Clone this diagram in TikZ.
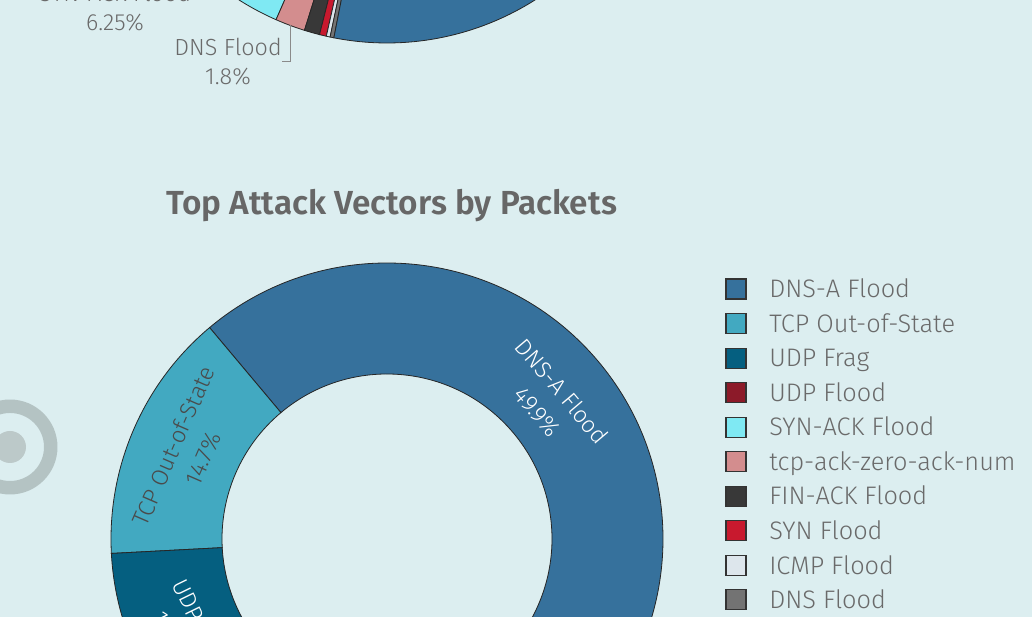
\documentclass[tikz,border=0pt]{standalone}
\usepackage{fontspec}
\setmainfont{Fira Sans}[UprightFont={* Light}, BoldFont={* SemiBold}]
\usetikzlibrary{calc}
\definecolor{bg}{HTML}{DCEEF0}
\definecolor{txtgray}{HTML}{6A6A6A}
\definecolor{titlegray}{HTML}{676767}
\definecolor{darklabel}{HTML}{4A4A4A}
\definecolor{ringgray}{HTML}{B4C3C3}
\definecolor{dotgray}{HTML}{BCC9C9}
\definecolor{leadergray}{HTML}{8A8A8A}
\definecolor{cDNSA}{HTML}{36719C}
\definecolor{cTCP}{HTML}{42A9C1}
\definecolor{cUDPFrag}{HTML}{055F80}
\definecolor{cUDPFlood}{HTML}{8C1A29}
\definecolor{cSYNACK}{HTML}{7FE9F3}
\definecolor{cTCPACK}{HTML}{D38D8E}
\definecolor{cFINACK}{HTML}{383838}
\definecolor{cSYN}{HTML}{C8192E}
\definecolor{cICMP}{HTML}{DDE6EC}
\definecolor{cDNS}{HTML}{737373}
\tikzset{
  slice/.style={draw=black!85, line width=0.6pt},
  legbox/.style={draw=black!80, line width=0.8pt, minimum width=15pt, minimum height=15pt, inner sep=0pt},
  legtext/.style={anchor=base west, inner sep=0pt, text=txtgray, font=\fontsize{19}{23}\selectfont},
  slicelabel/.style={align=center, inner sep=0pt, font=\fontsize{17.5}{24}\selectfont},
  annot/.style={align=center, inner sep=0pt, text=txtgray, font=\fontsize{17.5}{21.75}\selectfont},
  titletext/.style={inner sep=0pt, text=titlegray, font=\fontsize{25}{29}\selectfont\bfseries}
}
\newcommand\annsec[4]{%
  \filldraw[slice, fill=#4] ($(#1)+(#2:276)$) arc[start angle=#2, end angle=#3, radius=276]
    -- ($(#1)+(#3:165)$) arc[start angle=#3, end angle=#2, radius=165] -- cycle;}
\begin{document}
\begin{tikzpicture}[x=0.75pt,y=0.75pt]
\useasboundingbox (0,0) rectangle (1032,617);
\clip (0,0) rectangle (1032,617);
\fill[bg] (0,0) rectangle (1032,617);
% decorative ring at left edge
\draw[ringgray, line width=10.1pt] (10,170) circle[radius=40.75];
\fill[dotgray] (10,170) circle[radius=16];
% ---------- upper donut (bottom part) ----------
\coordinate (U) at (387,850);
\annsec{U}{-160}{-113.7}{cSYNACK}
\annsec{U}{-113.7}{-107.4}{cTCPACK}
\annsec{U}{-107.4}{-104.15}{cFINACK}
\annsec{U}{-104.15}{-102.7}{cSYN}
\annsec{U}{-102.7}{-101.9}{cICMP}
\annsec{U}{-101.9}{-101.1}{cDNS}
\annsec{U}{-101.1}{0}{cDNSA}
\node[annot] (synack) at (115,609.5) {SYN-ACK Flood\\6.25\%};
\node[annot] (dnsflood) at (228,555) {DNS Flood\\1.8\%};
\coordinate (leadA) at (290,592);
\coordinate (leadB) at (290,555.5);
\draw[leadergray, line width=0.75pt] (leadA) -- (leadB) -- (dnsflood.east |- leadB);
% ---------- title ----------
\node[titletext] (title) at (391.5,411) {Top Attack Vectors by Packets};
% ---------- lower donut ----------
\coordinate (L) at (387,78);
\annsec{L}{-49.6}{130}{cDNSA}
\annsec{L}{130}{183}{cTCP}
\annsec{L}{183}{224}{cUDPFrag}
\annsec{L}{224}{310.4}{cUDPFrag}
\node[slicelabel, text=white, rotate=-49.8] (lblDNSA) at ($(L)+(40.2:213)$) {DNS-A Flood\\49.9\%};
\node[slicelabel, text=darklabel, rotate=66.5] (lblTCP) at ($(L)+(156.5:217)$) {TCP Out-of-State\\14.7\%};
\node[slicelabel, text=white, rotate=-64] (lblUDP) at ($(L)+(204:222)$) {UDP Frag\\11.4\%};
% ---------- legend ----------
\foreach \col/\name [count=\i from 0] in {cDNSA/DNS-A Flood, cTCP/TCP Out-of-State, cUDPFrag/UDP Frag, cUDPFlood/UDP Flood, cSYNACK/SYN-ACK Flood, cTCPACK/tcp-ack-zero-ack-num, cFINACK/FIN-ACK Flood, cSYN/SYN Flood, cICMP/ICMP Flood, cDNS/DNS Flood}{
  \node[legbox, fill=\col] (box\i) at (736, 328 - 34.55*\i) {};
  \node[legtext] (leg\i) at (769, 328 - 34.55*\i - 8.7) {\name};
}
\end{tikzpicture}
\end{document}
